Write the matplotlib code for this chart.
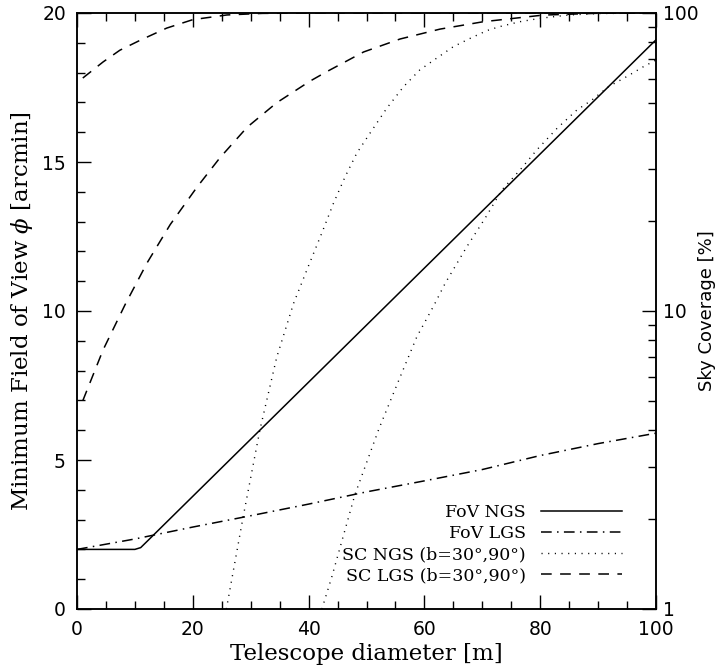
import matplotlib
matplotlib.use("Agg")
import matplotlib.pyplot as plt
from matplotlib.ticker import MultipleLocator, LogLocator, FixedLocator, FixedFormatter, NullFormatter
from matplotlib.lines import Line2D

# ---- data ----
fov_ngs_x = [0, 10, 11, 12, 100]
fov_ngs_y = [2.0, 2.0, 2.06, 2.25, 19.1]

fov_lgs_x = [0, 10, 20, 30, 40, 50, 60, 70, 80, 90, 100]
fov_lgs_y = [2.0, 2.35, 2.75, 3.13, 3.52, 3.93, 4.3, 4.68, 5.15, 5.55, 5.9]

sc_ngs1_x = [25.8, 28.7, 31.6, 34.5, 37.4, 40.0, 42.3, 44.3, 46.3, 48.3, 50.6, 53.5, 56.4, 59.2,
             62.1, 65.0, 67.9, 70.8, 73.0, 76.5, 80.0, 85.0, 90.0, 100]
sc_ngs1_y = [1.0, 2.04, 4.0, 7.0, 10.6, 14.2, 18.3, 23.0, 28.2, 33.8, 39.5, 47.9, 56.6, 64.4,
             70.5, 77.1, 82.2, 87.3, 90.0, 93.5, 96.0, 98.5, 99.6, 100]

sc_ngs2_x = [42.3, 44, 48, 52.2, 55.8, 58.7, 61.6, 63.6, 65.3, 67.3, 70.5, 73.4, 76.5, 79.4,
             82.9, 86.3, 88.9, 91.8, 94.9, 97.8, 100]
sc_ngs2_y = [1.0, 1.28, 2.42, 4.05, 6.0, 8.2, 10.4, 12.4, 14.1, 16.4, 20.5, 25.5, 29.7, 34.7,
             41, 47.2, 51, 56.6, 61.1, 66, 69.5]

sc_lgs1_x = [1.0, 4.5, 7.4, 10.9, 15.5, 20, 25.9, 32, 40, 100]
sc_lgs1_y = [60.5, 68.5, 75, 81, 89, 95, 98.5, 99.7, 100, 100]

sc_lgs2_x = [1.0, 4.5, 8.3, 12.1, 16.1, 20.7, 24.7, 29.4, 34.5, 40.2, 43.1, 49.5, 55.8, 62.7,
             70.2, 80.5, 90, 100]
sc_lgs2_y = [5.0, 7.4, 10.5, 14.5, 19.5, 26, 32.7, 41.4, 50, 59, 63.5, 74, 81.8, 88.3,
             93.5, 98.4, 99.8, 100]

legend_labels = ["FoV NGS", "FoV LGS", "SC NGS (b=30\u00b0,90\u00b0)", "SC LGS (b=30\u00b0,90\u00b0)"]
x_label = "Telescope diameter [m]"
y_label = r"Minimum Field of View $\phi$ [arcmin]"
y2_label = "Sky Coverage [%]"

# ---- styles ----
plt.rcParams['mathtext.fontset'] = 'dejavuserif'
SOLID = '-'
DASHDOT = (0, (7, 3.5, 1, 3.5))
DOTTED = (0, (0.8, 4))
DASHED = (0, (7, 5.5))

fig = plt.figure(figsize=(7.23, 6.71), dpi=100)
ax = fig.add_axes([77/723, 1-609/671, (656-77)/723, (609-13)/671])
ax2 = ax.twinx()

lw = 1.1
ax.plot(fov_ngs_x, fov_ngs_y, color='black', lw=lw, linestyle=SOLID)
ax.plot(fov_lgs_x, fov_lgs_y, color='black', lw=lw, linestyle=DASHDOT)

ax2.plot(sc_ngs1_x, sc_ngs1_y, color='black', lw=1.0, linestyle=DOTTED)
ax2.plot(sc_ngs2_x, sc_ngs2_y, color='black', lw=1.0, linestyle=DOTTED)
ax2.plot(sc_lgs1_x, sc_lgs1_y, color='black', lw=lw, linestyle=DASHED)
ax2.plot(sc_lgs2_x, sc_lgs2_y, color='black', lw=lw, linestyle=DASHED)

ax.set_xlim(0, 100)
ax.set_ylim(0, 20)
ax2.set_yscale('log')
ax2.set_ylim(1, 100)

ax.xaxis.set_major_locator(MultipleLocator(20))
ax.xaxis.set_minor_locator(MultipleLocator(5))
ax.yaxis.set_major_locator(MultipleLocator(5))
ax.yaxis.set_minor_locator(MultipleLocator(1))
ax.tick_params(axis='both', which='both', direction='in', top=True, right=False, color='black')
ax.tick_params(which='major', length=10, width=1.0, labelsize=13.5)
ax.tick_params(which='minor', length=5.5, width=1.0)
ax.tick_params(axis='x', pad=8)
ax.tick_params(axis='y', pad=8)

ax2.yaxis.set_major_locator(FixedLocator([1, 10, 100]))
ax2.yaxis.set_major_formatter(FixedFormatter(['1', '10', '100']))
ax2.yaxis.set_minor_locator(LogLocator(base=10, subs=range(2, 10)))
ax2.yaxis.set_minor_formatter(NullFormatter())
ax2.tick_params(axis='y', which='both', direction='in', color='black')
ax2.tick_params(which='major', length=10, width=1.0, labelsize=13.5, pad=5)
ax2.tick_params(which='minor', length=5.5, width=1.0)

for a in (ax, ax2):
    for s in a.spines.values():
        s.set_linewidth(1.1)

ax.set_xlabel(x_label, family='DejaVu Serif', fontsize=16.5, labelpad=3)
ax.set_ylabel(y_label, family='DejaVu Serif', fontsize=16.5, labelpad=5)
ax2.set_ylabel(y2_label, family='DejaVu Sans', fontsize=13)
ax2.yaxis.set_label_coords(1.0725, 0.5)

handles = [Line2D([], [], color='black', lw=lw, linestyle=SOLID),
           Line2D([], [], color='black', lw=lw, linestyle=DASHDOT),
           Line2D([], [], color='black', lw=1.0, linestyle=DOTTED),
           Line2D([], [], color='black', lw=lw, linestyle=DASHED)]
leg = ax2.legend(handles, legend_labels, loc='lower right', bbox_to_anchor=(0.957, 0.027),
                 frameon=False, markerfirst=False, handlelength=4.7, handletextpad=0.85,
                 labelspacing=0.24, borderpad=0, prop=dict(family='DejaVu Serif', size=12.5))
for t in leg.get_texts():
    t.set_ha('right')

fig.savefig('out.png', dpi=100)
